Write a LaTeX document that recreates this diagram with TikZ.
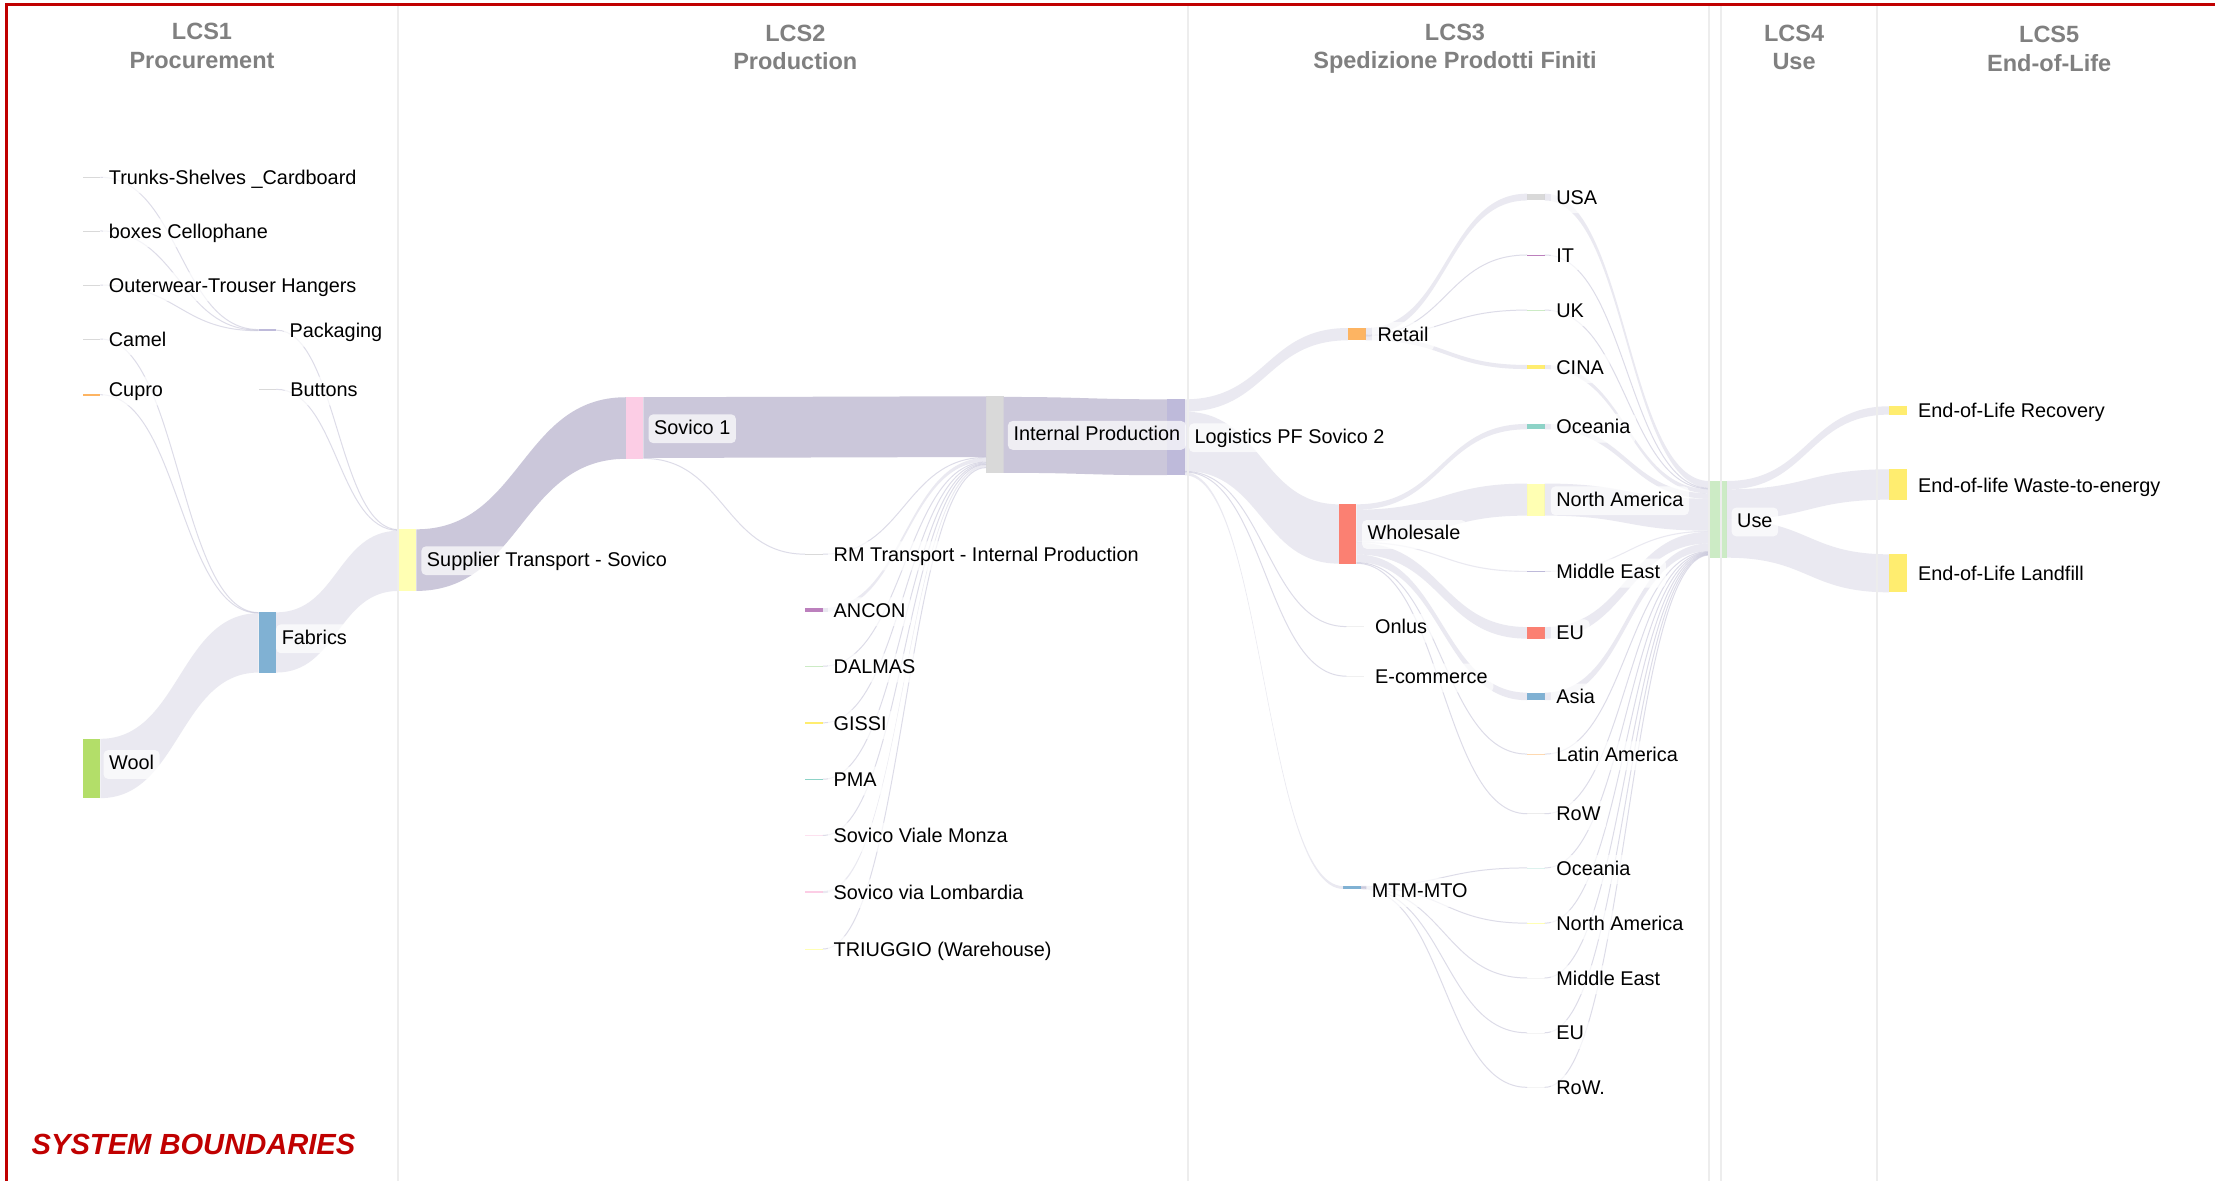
\documentclass[tikz,border=0pt]{standalone}
\usepackage{fontspec}
\setmainfont{Liberation Sans}
\usetikzlibrary{calc}
\definecolor{bdred}{HTML}{C00000}
\definecolor{hdrgray}{HTML}{808080}
\definecolor{sepc}{HTML}{EDEDED}
\definecolor{lav}{HTML}{CBC7DA}
\definecolor{fbase}{HTML}{B4B2CD}
\definecolor{cgreen}{HTML}{B3DE69}
\definecolor{cblue}{HTML}{80B1D3}
\definecolor{cylw}{HTML}{FFFFB3}
\definecolor{cpink}{HTML}{FCCDE5}
\definecolor{cgray}{HTML}{D9D9D9}
\definecolor{clav}{HTML}{BEBADA}
\definecolor{cpurple}{HTML}{BC80BD}
\definecolor{clgreen}{HTML}{CCEBC5}
\definecolor{cgold}{HTML}{FFED6F}
\definecolor{cteal}{HTML}{8DD3C7}
\definecolor{corange}{HTML}{FDB462}
\definecolor{csalmon}{HTML}{FB8072}
\newcommand\labfont{\fontsize{6pt}{7pt}\selectfont}
\newcommand\hdrfont{\fontsize{7.1pt}{8.7pt}\selectfont\bfseries}
\newcommand\sbfont{\fontsize{8.8pt}{10pt}\selectfont\bfseries\itshape}
% bar node: name, x, ytop, height, colour
\newcommand\nbar[5]{\node[barn, fill=#5, minimum height=#4*0.15mm] (#1) at (#2,#3) {};}
% band: src, src offset, tgt, tgt offset, width, style
\newcommand\band[6]{%
  \fill[#6] let \p1=($(#1.north east)+(0,#2)$), \p2=($(#3.north west)+(0,#4)$),
     \p3=($(#1.north east)+(0,#2+#5)$), \p4=($(#3.north west)+(0,#4+#5)$),
     \p5=($(\p1)!0.5!(\p2)$) in
   (\p1) .. controls (\x5,\y1) and (\x5,\y2) .. (\p2) -- (\p4)
   .. controls (\x5,\y4) and (\x5,\y3) .. (\p3) -- cycle;}
% thin link: src, src offset, tgt, tgt offset, style
\newcommand\tlink[5]{%
  \draw[#5] let \p1=($(#1.north east)+(0,#2)$), \p2=($(#3.north west)+(0,#4)$),
     \p5=($(\p1)!0.5!(\p2)$) in
   (\p1) .. controls (\x5,\y1) and (\x5,\y2) .. (\p2);}
% label: name, text x, y, text
\newcommand\lbl[4]{\node[lab] (#1) at (#2-4,#3+1.2) {#4};}
\begin{document}
\begin{tikzpicture}[x=0.15mm,y=-0.15mm,
  barn/.style={inner sep=0pt, outer sep=0pt, minimum width=12.5*0.15mm, anchor=north west, draw=none},
  lab/.style={anchor=west, inner xsep=0.6mm, inner ysep=1.4pt, text height=4.6pt, text depth=1.3pt,
     rounded corners=0.5mm, fill=white, fill opacity=0.7, text opacity=1, font=\labfont},
  hdr/.style={align=center, font=\hdrfont, text=hdrgray, inner sep=0pt},
  flowg/.style={fill=fbase, fill opacity=0.28},
  flowl/.style={fill=lav},
  thinl/.style={draw=fbase, draw opacity=0.45, line width=0.3pt},
  sepl/.style={draw=sepc, line width=0.2mm},
  bdr/.style={draw=bdred, line width=0.3mm, line join=miter}]
\useasboundingbox (0,0) rectangle (1568,836);
\fill[white] (0,0) rectangle (1568,836);

% ---------- bars ----------
\nbar{trunks}{58.5}{125.2}{0.6}{cgray}
\nbar{boxes}{58.5}{163.2}{0.6}{cgray}
\nbar{outer}{58.5}{201.5}{0.6}{cgray}
\nbar{camel}{58.5}{239.7}{0.6}{cgray}
\nbar{cupro}{58.5}{278.8}{1.2}{corange}
\nbar{wool}{58.5}{523}{42}{cgreen}
\nbar{pack}{183}{233.1}{1.2}{clav}
\nbar{butt}{183}{275.3}{0.6}{cgray}
\nbar{fab}{183}{433.5}{42.6}{cblue}
\nbar{supp}{282.2}{374.7}{43.6}{cylw}
\nbar{sov}{443}{281.2}{43.6}{cpink}
\nbar{rm}{570}{392}{0.6}{cgray}
\nbar{ancon}{570}{430.5}{2.7}{cpurple}
\nbar{dalmas}{570}{471.3}{0.6}{clgreen}
\nbar{gissi}{570}{511.2}{1}{cgold}
\nbar{pma}{570}{551.2}{0.8}{cteal}
\nbar{monza}{570}{591.1}{0.6}{cpink!60}
\nbar{lomb}{570}{630.8}{1.5}{cpink}
\nbar{triug}{570}{671.5}{0.6}{cylw}
\nbar{intp}{698}{280.5}{54.3}{cgray}
\nbar{logi}{826}{282.7}{53.7}{clav}
\nbar{retail}{954.2}{232.2}{8.7}{corange}
\nbar{whole}{947.7}{357}{42}{csalmon}
\nbar{onlus}{953}{443.3}{0.5}{cgray!40}
\nbar{ecom}{953}{478.4}{0.5}{cgray!40}
\nbar{mtm}{951}{627.3}{2}{cblue}
\nbar{usa}{1081}{137.1}{4.8}{cgray}
\nbar{it}{1081}{180.25}{0.5}{cpurple}
\nbar{uk}{1081}{219.25}{0.5}{clgreen}
\nbar{cina}{1081}{258.35}{2.9}{cgold}
\nbar{oce}{1081}{300.1}{3.8}{cteal}
\nbar{na}{1081}{342.3}{22.7}{cylw}
\nbar{me}{1081}{404.1}{0.8}{clav}
\nbar{eu}{1081}{443.9}{8.2}{csalmon}
\nbar{asia}{1081}{490.3}{5.4}{cblue}
\nbar{lat}{1081}{533.5}{0.6}{corange!50}
\nbar{row}{1081}{575.8}{0.5}{cgray!50}
\nbar{oceb}{1081}{614.2}{0.4}{cteal!30}
\nbar{nab}{1081}{653.3}{0.4}{cylw}
\nbar{meb}{1081}{692.1}{0.4}{cgray!30}
\nbar{eub}{1081}{730.9}{0.4}{cgray!30}
\nbar{rowb}{1081}{769.5}{0.4}{cgray!30}
\nbar{use}{1210}{340.5}{54.3}{clgreen}
\nbar{rec}{1337.3}{287.6}{5.9}{cgold}
\nbar{wte}{1337.3}{332.2}{21.5}{cgold}
\nbar{land}{1337.3}{392.4}{26.9}{cgold}

% ---------- flows ----------
\tlink{trunks}{0.3}{pack}{0.2}{thinl}
\tlink{boxes}{0.3}{pack}{0.6}{thinl}
\tlink{outer}{0.3}{pack}{1.0}{thinl}
\tlink{camel}{0.3}{fab}{0.15}{thinl}
\tlink{cupro}{0.6}{fab}{0.45}{thinl}
\band{wool}{0}{fab}{0.6}{42}{flowg}
\tlink{pack}{0.6}{supp}{0.3}{thinl}
\tlink{butt}{0.3}{supp}{0.8}{thinl}
\band{fab}{0}{supp}{1.0}{42.6}{flowg}
\band{supp}{0}{sov}{0}{43.6}{flowl}
\band{sov}{0}{intp}{0}{43.0}{flowl}
\tlink{sov}{43.3}{rm}{0.3}{thinl}
\tlink{rm}{0.3}{intp}{43.3}{thinl}
\band{ancon}{0}{intp}{43.6}{2.7}{flowg}
\tlink{dalmas}{0.3}{intp}{46.6}{thinl}
\tlink{gissi}{0.5}{intp}{47.2}{thinl}
\tlink{pma}{0.4}{intp}{47.8}{thinl}
\tlink{monza}{0.3}{intp}{48.3}{thinl}
\band{lomb}{0}{intp}{48.6}{1.5}{flowg}
\tlink{triug}{0.3}{intp}{50.5}{thinl}
\band{intp}{0.5}{logi}{0}{53.7}{flowl}
\band{logi}{0}{retail}{0}{8.7}{flowg}
\band{logi}{8.7}{whole}{0}{42}{flowg}
\tlink{logi}{50.95}{onlus}{0.25}{thinl}
\tlink{logi}{51.45}{ecom}{0.25}{thinl}
\band{logi}{51.7}{mtm}{0}{2}{flowg}
\band{retail}{0}{usa}{0}{4.8}{flowg}
\tlink{retail}{5.05}{it}{0.25}{thinl}
\tlink{retail}{5.55}{uk}{0.25}{thinl}
\band{retail}{5.8}{cina}{0}{2.9}{flowg}
\band{whole}{0}{oce}{0}{3.8}{flowg}
\band{whole}{3.8}{na}{0}{22.7}{flowg}
\band{whole}{26.5}{me}{0}{0.8}{flowg}
\band{whole}{27.3}{eu}{0}{8.2}{flowg}
\band{whole}{35.5}{asia}{0}{5.4}{flowg}
\tlink{whole}{41.2}{lat}{0.3}{thinl}
\tlink{whole}{41.75}{row}{0.25}{thinl}
\tlink{mtm}{0.2}{oceb}{0.2}{thinl}
\tlink{mtm}{0.6}{nab}{0.2}{thinl}
\tlink{mtm}{1.0}{meb}{0.2}{thinl}
\tlink{mtm}{1.4}{eub}{0.2}{thinl}
\tlink{mtm}{1.8}{rowb}{0.2}{thinl}
\band{usa}{0}{use}{0}{4.8}{flowg}
\tlink{it}{0.25}{use}{5.05}{thinl}
\tlink{uk}{0.25}{use}{5.55}{thinl}
\band{cina}{0}{use}{5.8}{2.9}{flowg}
\band{oce}{0}{use}{8.7}{3.8}{flowg}
\band{na}{0}{use}{12.5}{22.7}{flowg}
\band{me}{0}{use}{35.2}{0.8}{flowg}
\band{eu}{0}{use}{36}{8.2}{flowg}
\band{asia}{0}{use}{44.2}{5.4}{flowg}
\tlink{lat}{0.3}{use}{49.9}{thinl}
\tlink{row}{0.25}{use}{50.4}{thinl}
\tlink{oceb}{0.2}{use}{50.8}{thinl}
\tlink{nab}{0.2}{use}{51.2}{thinl}
\tlink{meb}{0.2}{use}{51.6}{thinl}
\tlink{eub}{0.2}{use}{52.0}{thinl}
\tlink{rowb}{0.2}{use}{52.4}{thinl}
\band{use}{0}{rec}{0}{5.9}{flowg}
\band{use}{5.9}{wte}{0}{21.5}{flowg}
\band{use}{27.4}{land}{0}{26.9}{flowg}

% ---------- column separators ----------
\draw[sepl] (282,4) -- (282,836);
\draw[sepl] (841,4) -- (841,836);
\draw[sepl] (1209.6,4) -- (1209.6,836);
\draw[sepl] (1218.4,4) -- (1218.4,836);
\draw[sepl] (1328.8,4) -- (1328.8,836);

% ---------- labels ----------
\lbl{l-trunks}{76.6}{125.5}{Trunks-Shelves \_Cardboard}
\lbl{l-boxes}{76.6}{163.5}{boxes Cellophane}
\lbl{l-outer}{76.6}{201.8}{Outerwear-Trouser Hangers}
\lbl{l-camel}{76.6}{240}{Camel}
\lbl{l-cupro}{76.6}{275.6}{Cupro}
\lbl{l-wool}{76.8}{540}{Wool}
\lbl{l-pack}{204.5}{234}{Packaging}
\lbl{l-butt}{205}{275.6}{Buttons}
\lbl{l-fab}{199}{451}{Fabrics}
\lbl{l-supp}{301.8}{395.7}{Supplier Transport - Sovico}
\lbl{l-sov}{462.6}{302.3}{Sovico 1}
\lbl{l-rm}{589.7}{392.3}{RM Transport - Internal Production}
\lbl{l-ancon}{589.7}{431.9}{ANCON}
\lbl{l-dalmas}{589.7}{471.6}{DALMAS}
\lbl{l-gissi}{589.7}{511.7}{GISSI}
\lbl{l-pma}{589.7}{551.6}{PMA}
\lbl{l-monza}{589.7}{591.4}{Sovico Viale Monza}
\lbl{l-lomb}{589.7}{631.5}{Sovico via Lombardia}
\lbl{l-triug}{589.7}{671.8}{TRIUGGIO (Warehouse)}
\lbl{l-intp}{717}{307}{Internal Production}
\lbl{l-logi}{845.2}{308.7}{Logistics PF Sovico 2}
\lbl{l-retail}{974.8}{236.8}{Retail}
\lbl{l-whole}{967.7}{377.1}{Wholesale}
\lbl{l-onlus}{973}{443.5}{Onlus}
\lbl{l-ecom}{973}{478.7}{E-commerce}
\lbl{l-mtm}{970.7}{630.6}{MTM-MTO}
\lbl{l-usa}{1101.3}{139.5}{USA}
\lbl{l-it}{1101.3}{180.5}{IT}
\lbl{l-uk}{1101.3}{219.5}{UK}
\lbl{l-cina}{1101.3}{259.8}{CINA}
\lbl{l-oce}{1101.3}{302}{Oceania}
\lbl{l-na}{1101.3}{353.3}{North America}
\lbl{l-me}{1101.3}{404.5}{Middle East}
\lbl{l-eu}{1101.3}{447.5}{EU}
\lbl{l-asia}{1101.3}{493}{Asia}
\lbl{l-lat}{1101.3}{533.8}{Latin America}
\lbl{l-row}{1101.3}{576.1}{RoW}
\lbl{l-oceb}{1101.3}{614.4}{Oceania}
\lbl{l-nab}{1101.3}{653.5}{North America}
\lbl{l-meb}{1101.3}{692.3}{Middle East}
\lbl{l-eub}{1101.3}{731.1}{EU}
\lbl{l-rowb}{1101.3}{769.7}{RoW.}
\lbl{l-use}{1229.3}{368.3}{Use}
\lbl{l-rec}{1357.4}{290.5}{End-of-Life Recovery}
\lbl{l-wte}{1357.4}{343.4}{End-of-life Waste-to-energy}
\lbl{l-land}{1357.4}{405.9}{End-of-Life Landfill}

% ---------- headers ----------
\node[hdr] (h1) at (143,32.5) {LCS1\\Procurement};
\node[hdr] (h2) at (563,33.5) {LCS2\\Production};
\node[hdr] (h3) at (1030,34.5) {LCS3\\Spedizione Prodotti Finiti};
\node[hdr] (h4) at (1270,33.5) {LCS4\\Use};
\node[hdr] (h5) at (1450.6,34.5) {LCS5\\End-of-Life};

\node[font=\sbfont, text=bdred, inner sep=0pt] (sysb) at (137,810.5) {SYSTEM BOUNDARIES};

% ---------- border ----------
\draw[bdr] (4.6,836) -- (4.6,3.4) -- (1568,3.4);
\end{tikzpicture}
\end{document}
